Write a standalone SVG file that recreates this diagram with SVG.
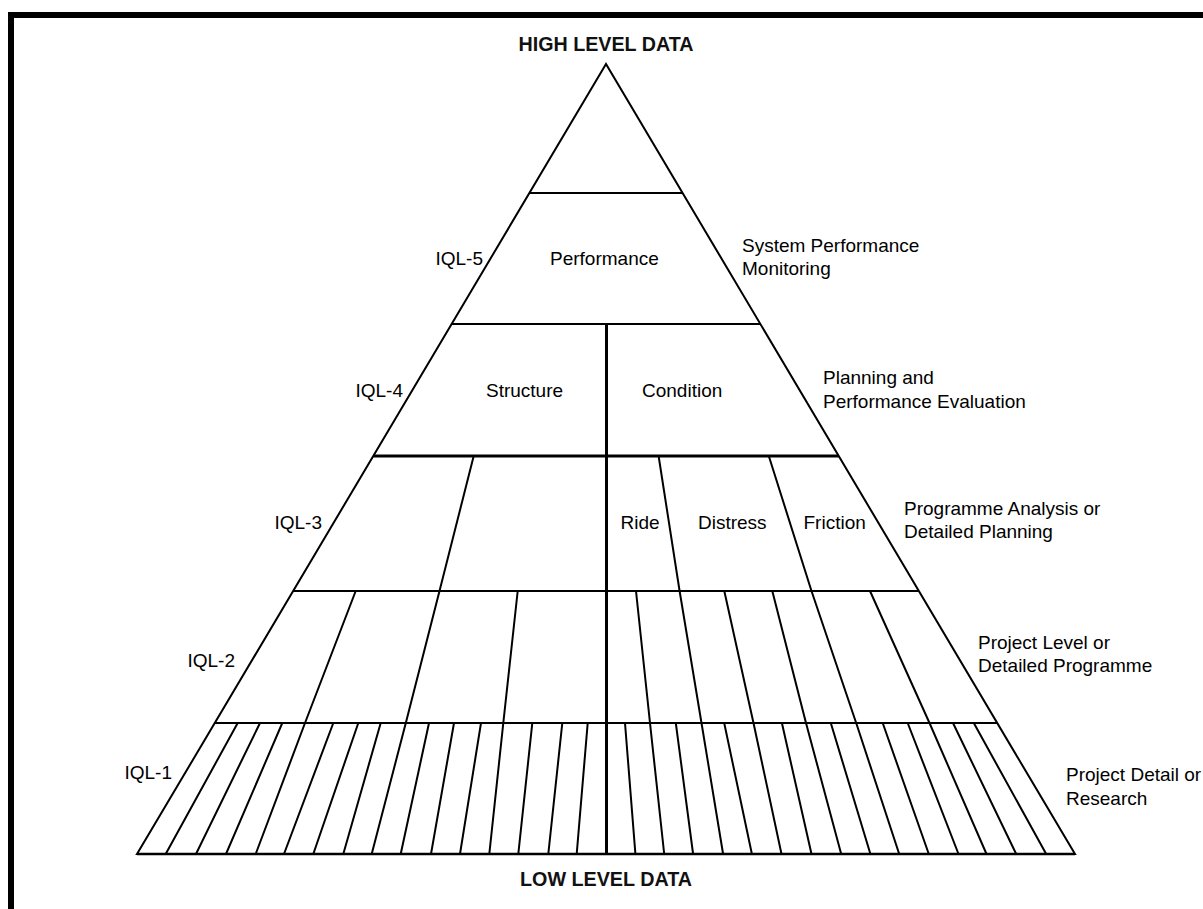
<svg xmlns="http://www.w3.org/2000/svg" width="1203" height="909" viewBox="0 0 1203 909">
<style>
.ln{stroke:#000;stroke-width:2;fill:none;stroke-linecap:round}
.thin{stroke:#000;stroke-width:1.8;fill:none}
.thk{stroke:#000;stroke-width:3;fill:none}
.lbl{font-family:"Liberation Sans",Arial,sans-serif;font-size:19px;fill:#000}
.big{font-family:"Liberation Sans",Arial,sans-serif;font-size:20px;font-weight:bold;fill:#111}
</style>
<rect width="1203" height="909" fill="#fff"/>
<g id="frame">
<rect x="8" y="12" width="1195" height="6" fill="#000"/>
<rect x="8" y="12" width="6" height="897" fill="#000"/>
</g>
<g id="pyramid-outline">
<polygon points="606,64 137,854 1075,854" class="ln" stroke-linejoin="miter"/>
<line x1="137" y1="854" x2="1075" y2="854" stroke="#000" stroke-width="2.5"/>
</g>
<g id="connectors">
<line class="thin" x1="529.4" y1="193" x2="682.6" y2="193"/>
<line class="thin" x1="451.6" y1="324" x2="760.4" y2="324"/>
<line class="thk" x1="373.3" y1="456" x2="838.7" y2="456"/>
<line class="thin" x1="293.1" y1="591" x2="918.9" y2="591"/>
<line class="thin" x1="214.8" y1="723" x2="997.2" y2="723"/>
<line class="thk" x1="606.5" y1="324" x2="606.5" y2="854"/>
<!-- IQL-3 dividers -->
<line class="ln" x1="473.7" y1="456" x2="439.5" y2="591"/>
<line class="ln" x1="658.6" y1="456" x2="679.6" y2="591"/>
<line class="ln" x1="768.8" y1="456" x2="811.5" y2="591"/>
<!-- IQL-2 dividers -->
<line class="ln" x1="355.7" y1="591" x2="305" y2="723"/>
<line class="ln" x1="439.5" y1="591" x2="405.8" y2="723"/>
<line class="ln" x1="517.7" y1="591" x2="503.3" y2="723"/>
<line class="ln" x1="636" y1="591" x2="650" y2="723"/>
<line class="ln" x1="679.6" y1="591" x2="701.5" y2="723"/>
<line class="ln" x1="724.3" y1="591" x2="753.5" y2="723"/>
<line class="ln" x1="772.3" y1="591" x2="806" y2="723"/>
<line class="ln" x1="811.5" y1="591" x2="856.2" y2="723"/>
<line class="ln" x1="870" y1="591" x2="929.5" y2="723"/>
<!-- IQL-1 dividers left -->
<line class="ln" x1="237.7" y1="723" x2="165.7" y2="854"/>
<line class="ln" x1="260" y1="723" x2="196" y2="854"/>
<line class="ln" x1="282.3" y1="723" x2="226" y2="854"/>
<line class="ln" x1="305" y1="723" x2="255.7" y2="854"/>
<line class="ln" x1="333.3" y1="723" x2="284" y2="854"/>
<line class="ln" x1="358.3" y1="723" x2="313.3" y2="854"/>
<line class="ln" x1="380.7" y1="723" x2="343.3" y2="854"/>
<line class="ln" x1="405.8" y1="723" x2="371.7" y2="854"/>
<line class="ln" x1="429" y1="723" x2="400.7" y2="854"/>
<line class="ln" x1="454" y1="723" x2="431" y2="854"/>
<line class="ln" x1="481" y1="723" x2="460" y2="854"/>
<line class="ln" x1="503.3" y1="723" x2="489.3" y2="854"/>
<line class="ln" x1="532.3" y1="723" x2="518.3" y2="854"/>
<line class="ln" x1="562.3" y1="723" x2="548.3" y2="854"/>
<line class="ln" x1="587.7" y1="723" x2="576.7" y2="854"/>
<!-- IQL-1 dividers right -->
<line class="ln" x1="625" y1="723" x2="635.4" y2="854"/>
<line class="ln" x1="650" y1="723" x2="664.2" y2="854"/>
<line class="ln" x1="675.8" y1="723" x2="693.1" y2="854"/>
<line class="ln" x1="701.5" y1="723" x2="723.1" y2="854"/>
<line class="ln" x1="724.2" y1="723" x2="751.9" y2="854"/>
<line class="ln" x1="753.5" y1="723" x2="781.5" y2="854"/>
<line class="ln" x1="781.9" y1="723" x2="811.5" y2="854"/>
<line class="ln" x1="806" y1="723" x2="841.2" y2="854"/>
<line class="ln" x1="830.8" y1="723" x2="870.4" y2="854"/>
<line class="ln" x1="856.2" y1="723" x2="899.2" y2="854"/>
<line class="ln" x1="882.7" y1="723" x2="928.8" y2="854"/>
<line class="ln" x1="907.7" y1="723" x2="958.5" y2="854"/>
<line class="ln" x1="929.5" y1="723" x2="986.5" y2="854"/>
<line class="ln" x1="953" y1="723" x2="1016.2" y2="854"/>
<line class="ln" x1="973.8" y1="723" x2="1046.2" y2="854"/>
</g>
<g id="title-high"><text class="big" x="606" y="50.5" text-anchor="middle" textLength="175" lengthAdjust="spacingAndGlyphs">HIGH LEVEL DATA</text></g>
<g id="title-low"><text class="big" x="606" y="886" text-anchor="middle" textLength="172" lengthAdjust="spacingAndGlyphs">LOW LEVEL DATA</text></g>
<g id="tier-iql5">
<text class="lbl" x="483" y="265" text-anchor="end">IQL-5</text>
<text class="lbl" x="550" y="265">Performance</text>
<text class="lbl" x="742" y="252">System Performance</text>
<text class="lbl" x="742" y="275">Monitoring</text>
</g>
<g id="tier-iql4">
<text class="lbl" x="403" y="397" text-anchor="end">IQL-4</text>
<text class="lbl" x="486" y="397">Structure</text>
<text class="lbl" x="642" y="397">Condition</text>
<text class="lbl" x="823" y="384">Planning and</text>
<text class="lbl" x="823" y="408">Performance Evaluation</text>
</g>
<g id="tier-iql3">
<text class="lbl" x="322" y="529" text-anchor="end">IQL-3</text>
<text class="lbl" x="620.5" y="529">Ride</text>
<text class="lbl" x="698" y="529">Distress</text>
<text class="lbl" x="803.5" y="529">Friction</text>
<text class="lbl" x="904" y="515">Programme Analysis or</text>
<text class="lbl" x="904" y="538">Detailed Planning</text>
</g>
<g id="tier-iql2">
<text class="lbl" x="235" y="667" text-anchor="end">IQL-2</text>
<text class="lbl" x="978" y="649">Project Level or</text>
<text class="lbl" x="978" y="672">Detailed Programme</text>
</g>
<g id="tier-iql1">
<text class="lbl" x="172" y="779" text-anchor="end">IQL-1</text>
<text class="lbl" x="1066" y="781">Project Detail or</text>
<text class="lbl" x="1066" y="805">Research</text>
</g>
</svg>
